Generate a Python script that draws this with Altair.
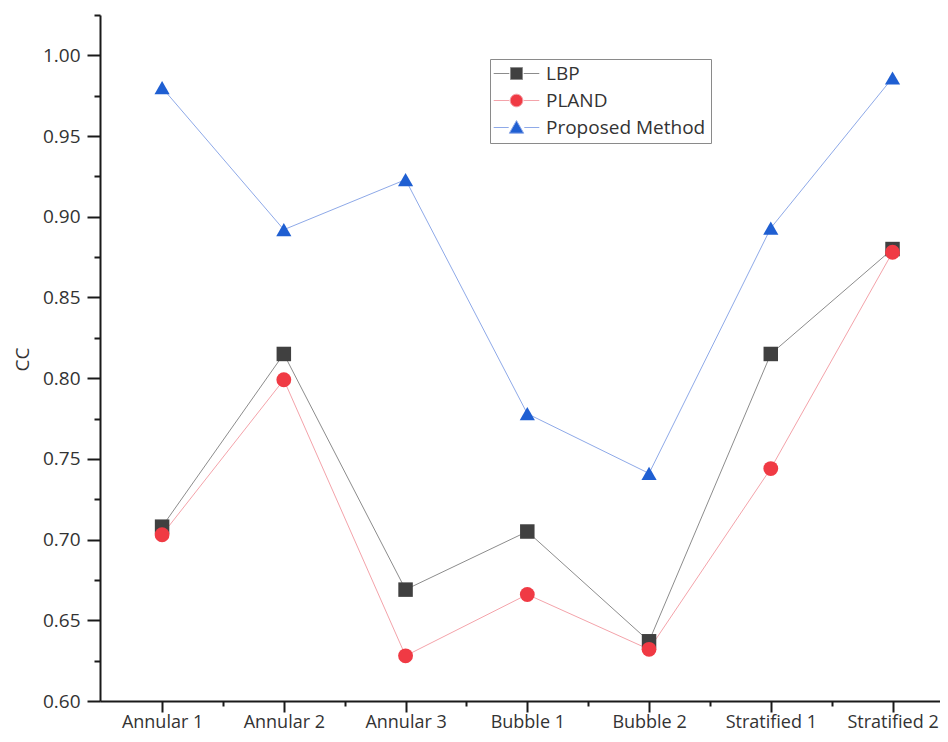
import json
import altair as alt
import pandas as pd

categories = ["Annular 1", "Annular 2", "Annular 3", "Bubble 1", "Bubble 2",
              "Stratified 1", "Stratified 2"]
series_names = ["LBP", "PLAND", "Proposed Method"]
lbp = [0.708, 0.815, 0.669, 0.705, 0.637, 0.815, 0.880]
pland = [0.703, 0.799, 0.628, 0.666, 0.632, 0.744, 0.878]
proposed = [0.980, 0.892, 0.923, 0.778, 0.741, 0.893, 0.986]

marker_colors = ["#404040", "#f03a44", "#1f5fd2"]
line_colors = ["#8c8c8c", "#f4a3aa", "#8ea9e8"]
marker_shapes = ["square", "circle", "triangle-up"]
marker_sizes = [210, 230, 330]

x_ticks = [1, 1.5, 2, 2.5, 3, 3.5, 4, 4.5, 5, 5.5, 6, 6.5, 7]
y_ticks = [0.600, 0.625, 0.650, 0.675, 0.700, 0.725, 0.750, 0.775, 0.800,
           0.825, 0.850, 0.875, 0.900, 0.925, 0.950, 0.975, 1.000, 1.025]

rows = []
for s, vals, lc in zip(series_names, [lbp, pland, proposed], line_colors):
    for i, (c, v) in enumerate(zip(categories, vals)):
        rows.append({"xi": i + 1, "category": c, "series": s, "value": v, "lc": lc})
df = pd.DataFrame(rows)

font = "Open Sans"
axis_color = "#1a1a1a"
text_color = "#333333"

x_label_expr = ("datum.value % 1 == 0 ? " + json.dumps(categories)
                + "[datum.value - 1] : ''")
y_label_expr = "round(datum.value*1000) % 50 == 0 ? format(datum.value, '.2f') : ''"

x_enc = alt.X(
    "xi:Q",
    scale=alt.Scale(domain=[0.49, 7.39], nice=False, zero=False),
    axis=alt.Axis(
        values=x_ticks, labelExpr=x_label_expr, title=None, grid=False,
        tickSize={"condition": {"test": "datum.value % 1 == 0", "value": 11}, "value": 5},
        tickWidth=2, domainWidth=2, domainColor=axis_color, tickColor=axis_color,
        labelFont=font, labelFontSize=18, labelColor=text_color, labelPadding=1,
        labelOverlap=False, labelFlush=False,
    ),
)
y_enc = alt.Y(
    "value:Q",
    scale=alt.Scale(domain=[0.6, 1.025], nice=False, zero=False),
    axis=alt.Axis(
        values=y_ticks, labelExpr=y_label_expr, title="CC", grid=False,
        tickSize={"condition": {"test": "round(datum.value*1000) % 50 == 0", "value": 13}, "value": 6},
        tickWidth=2, domainWidth=2, domainColor=axis_color, tickColor=axis_color,
        labelFont=font, labelFontSize=19, labelColor=text_color, labelPadding=7,
        labelOverlap=False, labelFlush=False,
        titleFont=font, titleFontSize=19, titleFontWeight="normal", titleColor=text_color,
        titleX=-78, titleY=344, titleBaseline="middle",
    ),
)

# legend symbols: short line - marker - short line
legend_shapes = [
    "M-3.8,0H-1.2M1.2,0H3.8M-1,-1H1V1H-1Z",
    "M-3.8,0H-1.2M1.2,0H3.8M-1.05,0A1.05,1.05 0 1,0 1.05,0A1.05,1.05 0 1,0 -1.05,0Z",
    "M-3.8,0H-1.3M1.3,0H3.8M0,-1.15L1.2,0.95H-1.2Z",
]

legend = alt.Legend(
    orient="none", legendX=390, legendY=44, title=None,
    strokeColor="#8a8a8a", padding=5, symbolOffset=12, labelOffset=20,
    labelFont=font, labelFontSize=19, labelColor=text_color,
    symbolSize=144, rowPadding=7, symbolStrokeWidth=1,
)

lines = alt.Chart(df).mark_line(strokeWidth=1).encode(
    x=x_enc, y=y_enc,
    color=alt.Color("lc:N", scale=None),
    detail="series:N",
)

points = alt.Chart(df).transform_calculate(
    order_idx="indexof(['LBP','PLAND','Proposed Method'], datum.series)"
).mark_point(filled=True, opacity=1).encode(
    x=x_enc, y=y_enc,
    color=alt.Color("series:N", scale=alt.Scale(domain=series_names, range=marker_colors),
                    legend=None),
    shape=alt.Shape("series:N", scale=alt.Scale(domain=series_names, range=marker_shapes),
                    legend=None),
    size=alt.Size("series:N", scale=alt.Scale(domain=series_names, range=marker_sizes),
                  legend=None),
    order=alt.Order("order_idx:Q"),
)

legend_layer = alt.Chart(df).transform_filter("datum.xi > 100").mark_point(
    filled=True, opacity=1, strokeWidth=1, size=144
).encode(
    x=x_enc, y=y_enc,
    color=alt.Color("series:N", scale=alt.Scale(domain=series_names, range=marker_colors),
                    legend=legend),
    stroke=alt.Stroke("series:N", scale=alt.Scale(domain=series_names, range=line_colors),
                      legend=legend),
    shape=alt.Shape("series:N", scale=alt.Scale(domain=series_names, range=legend_shapes),
                    legend=legend),
)

chart = alt.layer(lines, points, legend_layer).resolve_scale(
    color="independent", shape="independent", size="independent", stroke="independent"
).properties(
    width=840, height=686,
    autosize=alt.AutoSizeParams(type="none"),
    padding={"left": 92, "top": 7, "right": 0, "bottom": 33},
    background="white",
).configure_view(stroke=None)

chart.save("out.html", embed_options={"renderer": "svg", "actions": False})
